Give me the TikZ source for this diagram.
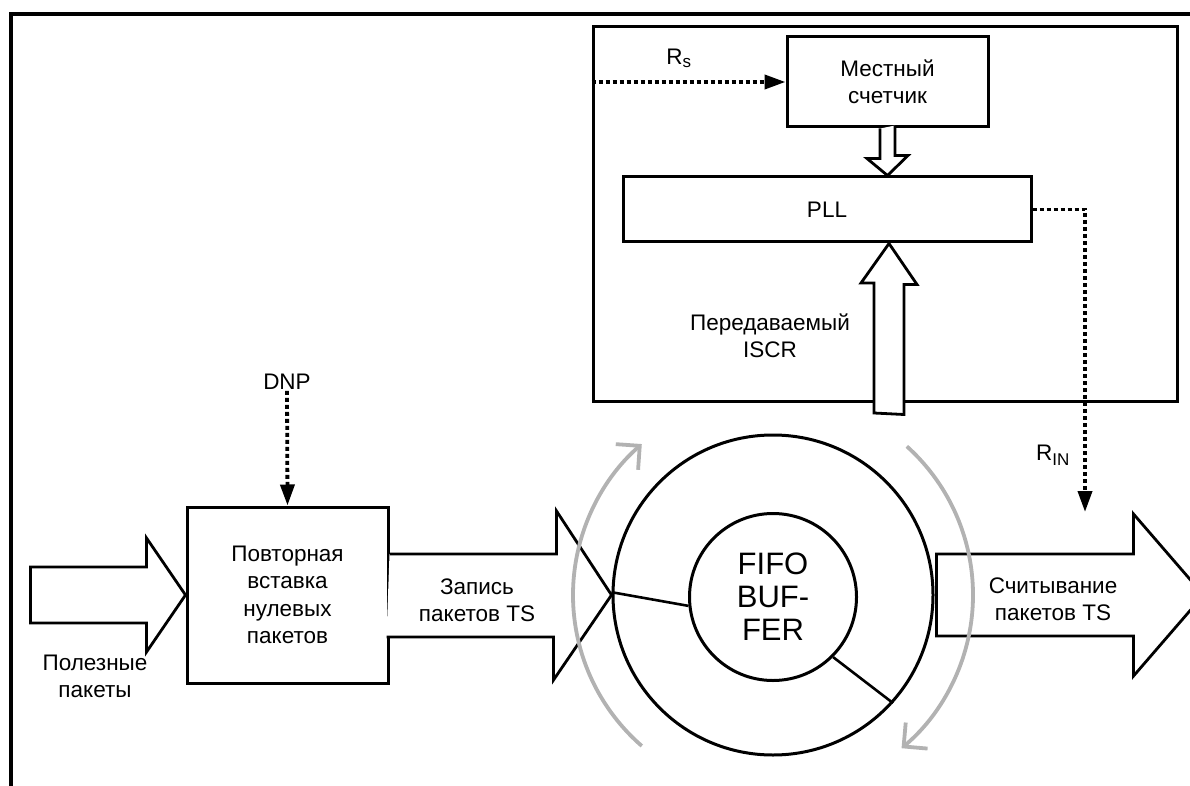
\documentclass[tikz,border=0pt]{standalone}
\usepackage{fontspec}
\setmainfont{Liberation Sans}
\usetikzlibrary{arrows.meta,positioning,calc}

\begin{document}
\begin{tikzpicture}[x=1pt, y=-1pt,
      block/.style={draw, line width=3pt, align=center, inner sep=0pt, font=\fontsize{22.5}{27.5}\selectfont},
      txt/.style={align=center, inner sep=1pt, font=\fontsize{22.5}{27}\selectfont},
      ring/.style={draw, circle, line width=3pt, inner sep=0pt},
      hollow/.style={draw, line width=2.8pt, fill=white, line join=miter},
      dotarrow/.style={line width=3.8pt, dash pattern=on 4pt off 3pt, -{Triangle[length=21pt,width=14pt]}},
      turn/.style={draw=gray!60, line width=3.8pt, -{Straight Barb[length=17pt,width=34pt]}}
    ]
    \useasboundingbox (0,0) rectangle (1190,786);
    \draw[line width=3.6pt] (11,786) |- (1190,14);

    \node[block, minimum width=584, minimum height=374] (recv) at (885,214) {};
    \node[block, minimum width=201, minimum height=90] (counter) at (887.5,82) {Местный\\счетчик};
    \node[block, minimum width=408, minimum height=65] (pll) at (827,209.5) {PLL};
    \node[block, minimum width=201, minimum height=176] (insert) at (287.5,595) {Повторная\\вставка\\нулевых\\пакетов};
    \node[ring, minimum size=320] (bufout) at (773,595) {};
    \node[ring, minimum size=167, align=center, font=\fontsize{31}{33}\selectfont] (bufin) at (773,597) {FIFO\\BUF-\\FER};
    \draw[line width=2.6pt] (bufout.179) -- (bufin.186);
    \draw[line width=2.6pt] (bufin.315) -- (bufout.318);

    \node[txt] (dnp) at (287,382) {DNP};
    \node[txt] (rs) at (679,58) {R\textsubscript{\fontsize{17}{17}\selectfont s}};
    \node[txt] (rin) at (1053,455) {R\textsubscript{\fontsize{17}{17}\selectfont IN}};
    \node[txt] (iscr) at (770,336) {Передаваемый\\ISCR};
    \node[txt] (payload) at (95,676) {Полезные\\пакеты};
    \coordinate (iscrin) at (889,413);
    \coordinate (rinend) at (1085,512);

    % block arrows
    \draw[hollow] ($(insert.west)+(-155,-28)$) -- ++(116,0) -- ++(0,-29) -- (insert.west) -- ++(-39,57) -- ++(0,-29) -- ++(-116,0) -- cycle;
    \draw[hollow] ($(insert.east)+(0,-41)$) -- ++(167,0) -- ++(0,-43) -- (bufout.west) -- ++(-58,85) -- ++(0,-43) -- ++(-167,0);
    \draw[hollow] ($(bufout.east)+(2,-41)$) -- ++(197,0) -- ++(0,-40) -- ++(70,81) -- ++(-70,81) -- ++(0,-40) -- ++(-197,0) -- cycle;
    \draw[hollow] ($(counter.south)+(-7.5,0)$) -- ++(0,30) -- ++(-13,0) -- (counter.south |- pll.north) -- ++(20.5,-20) -- ++(-13,0) -- ++(0,-30);
    \draw[hollow] ($(iscrin)+(-15,0)$) -- ++(0,-130) -- ++(-13,0) -- (iscrin |- pll.south) -- ++(28,41) -- ++(-13,0) -- ++(0,130) -- cycle;
    \node[txt] (wrlabel) at (477,600) {Запись\\пакетов TS};
    \node[txt] (rdlabel) at (1053,599) {Считывание\\пакетов TS};

    % dotted signals
    \draw[dotarrow] (recv.west |- counter.west) -- (counter.west);
    \draw[dotarrow] (pll.east) -| (rinend);
    \draw[dotarrow] (dnp.south) -- (insert.north);

    % rotation of the buffer
    \draw[turn] (bufout.center) ++(131:200) arc[start angle=131, end angle=229, radius=200];
    \draw[turn] (bufout.center) ++(-48:200) arc[start angle=-48, end angle=50, radius=200];
  \end{tikzpicture}
\end{document}
